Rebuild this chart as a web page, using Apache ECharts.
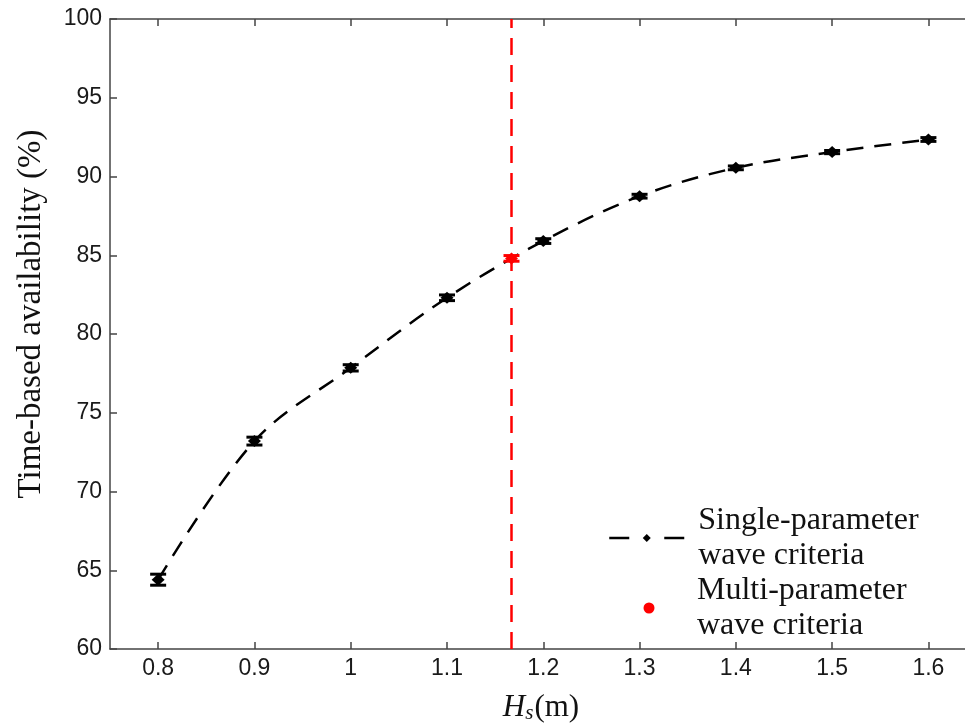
<!DOCTYPE html>
<html>
<head>
<meta charset="utf-8">
<script src="https://cdn.jsdelivr.net/npm/echarts@6/dist/echarts.min.js"></script>
<style>html,body{margin:0;padding:0;background:#fff;}#c{width:965px;height:724px;}</style>
</head>
<body>
<div id="c"></div>
<script>
// ---- data ----
const hsValues = [0.8, 0.9, 1.0, 1.1, 1.2, 1.3, 1.4, 1.5, 1.6];
const singleAvail = [64.4, 73.2, 77.85, 82.3, 85.9, 88.75, 90.55, 91.55, 92.35];
const singleErr = [0.35, 0.25, 0.2, 0.18, 0.15, 0.12, 0.12, 0.1, 0.12];
const multiHs = [1.167];
const multiAvail = [84.8];
const multiErr = [0.18];
const refLineHs = 1.167;
const yTicks = [60, 100, 5];
const xTickValues = [0.8, 0.9, 1.0, 1.1, 1.2, 1.3, 1.4, 1.5, 1.6];
const singleName = 'Single-parameter wave criteria';
const multiName = 'Multi-parameter wave criteria';

const singlePts = hsValues.map((x, i) => [x, singleAvail[i]]);
const singleErrPts = hsValues.map((x, i) => [x, singleAvail[i], singleErr[i]]);
const multiPts = multiHs.map((x, i) => [x, multiAvail[i]]);
const multiErrPts = multiHs.map((x, i) => [x, multiAvail[i], multiErr[i]]);
const refLinePts = [[refLineHs, yTicks[0]], [refLineHs, yTicks[1]]];

function errRender(color) {
  return function (params, api) {
    const x = api.value(0), y = api.value(1), e = api.value(2);
    const hi = api.coord([x, y + e]);
    const lo = api.coord([x, y - e]);
    const w = 8;
    const st = { stroke: color, lineWidth: 3 };
    return {
      type: 'group',
      children: [
        { type: 'line', shape: { x1: hi[0], y1: hi[1], x2: lo[0], y2: lo[1] }, style: st },
        { type: 'line', shape: { x1: hi[0] - w, y1: hi[1], x2: hi[0] + w, y2: hi[1] }, style: st },
        { type: 'line', shape: { x1: lo[0] - w, y1: lo[1], x2: lo[0] + w, y2: lo[1] }, style: st }
      ]
    };
  };
}

const axisCol = '#444';
const sans = 'Liberation Sans, Arial, sans-serif';
const serif = 'Liberation Serif, Times New Roman, serif';

const chart = echarts.init(document.getElementById('c'), null, { renderer: 'canvas' });
chart.setOption({
  animation: false,
  backgroundColor: '#fff',
  grid: { left: 110, right: 0, top: 19, bottom: 75, containLabel: false },
  xAxis: [
    {
      type: 'value', min: 0.75, max: 1.638, position: 'bottom',
      axisLine: { show: true, onZero: false, lineStyle: { color: axisCol, width: 1.5 } },
      axisTick: { show: true, inside: true, length: 7, customValues: xTickValues, lineStyle: { color: axisCol, width: 1.5 } },
      axisLabel: { customValues: xTickValues, margin: 8, color: '#1a1a1a', fontFamily: sans, fontSize: 23,
        formatter: v => String(Math.round(v * 10) / 10) },
      splitLine: { show: false }
    },
    {
      type: 'value', min: 0.75, max: 1.638, position: 'top',
      axisLine: { show: true, onZero: false, lineStyle: { color: axisCol, width: 1.5 } },
      axisTick: { show: true, inside: true, length: 7, customValues: xTickValues, lineStyle: { color: axisCol, width: 1.5 } },
      axisLabel: { show: false },
      splitLine: { show: false }
    }
  ],
  yAxis: [
    {
      type: 'value', min: yTicks[0], max: yTicks[1], interval: yTicks[2], position: 'left',
      axisLine: { show: true, onZero: false, lineStyle: { color: axisCol, width: 1.5 } },
      axisTick: { show: true, inside: true, length: 7, lineStyle: { color: axisCol, width: 1.5 } },
      axisLabel: { margin: 8, color: '#1a1a1a', fontFamily: sans, fontSize: 23 },
      splitLine: { show: false }
    }
  ],
  legend: [
    {
      data: [singleName], left: 608, top: 503, orient: 'vertical', padding: 0,
      itemWidth: 75, itemHeight: 10,
      formatter: n => n.replace(' wave', '\nwave'),
      textStyle: { fontFamily: serif, fontSize: 32, lineHeight: 35, color: '#111', padding: [0, 0, 0, 9] },
      lineStyle: { type: [20, 35], width: 2.5, color: '#000' },
      selectedMode: false
    },
    {
      data: [{ name: multiName, icon: 'circle' }], left: 643.5, top: 573, orient: 'vertical', padding: 0,
      itemWidth: 11, itemHeight: 11,
      formatter: n => n.replace(' wave', '\nwave'),
      itemStyle: { color: '#ff0000', opacity: 1 },
      textStyle: { fontFamily: serif, fontSize: 32, lineHeight: 35, color: '#111', padding: [0, 0, 0, 37.5] },
      selectedMode: false
    }
  ],
  graphic: [
    {
      type: 'text', rotation: Math.PI / 2, x: 31, y: 314,
      style: { text: 'Time-based availability (%)', font: '33px ' + serif, fill: '#111', textAlign: 'center', textVerticalAlign: 'middle' }
    },
    {
      type: 'text', x: 541, y: 708,
      style: {
        text: '{i|H}{s|s}{n|(m)}', textAlign: 'center', textVerticalAlign: 'middle',
        rich: {
          i: { fontFamily: serif, fontStyle: 'italic', fontSize: 31, fill: '#111', verticalAlign: 'bottom' },
          s: { fontFamily: serif, fontStyle: 'italic', fontSize: 21, fill: '#111', verticalAlign: 'bottom', padding: [0, 1, 0, 0] },
          n: { fontFamily: serif, fontSize: 31, fill: '#111', verticalAlign: 'bottom' }
        }
      }
    }
  ],
  series: [
    {
      name: 'refline', type: 'line', data: refLinePts, showSymbol: false, symbol: 'none',
      lineStyle: { color: '#ff0000', width: 2.5, type: [17, 10] }, z: 1, silent: true
    },
    {
      name: singleName, type: 'line', data: singlePts, smooth: 0.35,
      symbol: 'diamond', symbolSize: [13, 12], showSymbol: true,
      itemStyle: { color: '#000' },
      lineStyle: { color: '#000', width: 2.5, type: [17, 11] }, z: 3
    },
    {
      name: 'singleErr', type: 'custom', data: singleErrPts, renderItem: errRender('#000'), z: 4, silent: true
    },
    {
      name: multiName, type: 'scatter', data: multiPts, symbol: 'diamond', symbolSize: [13, 12],
      itemStyle: { color: '#ff0000', opacity: 1 }, z: 5
    },
    {
      name: 'multiErr', type: 'custom', data: multiErrPts, renderItem: errRender('#ff0000'), z: 5, silent: true
    }
  ]
});
</script>
</body>
</html>
